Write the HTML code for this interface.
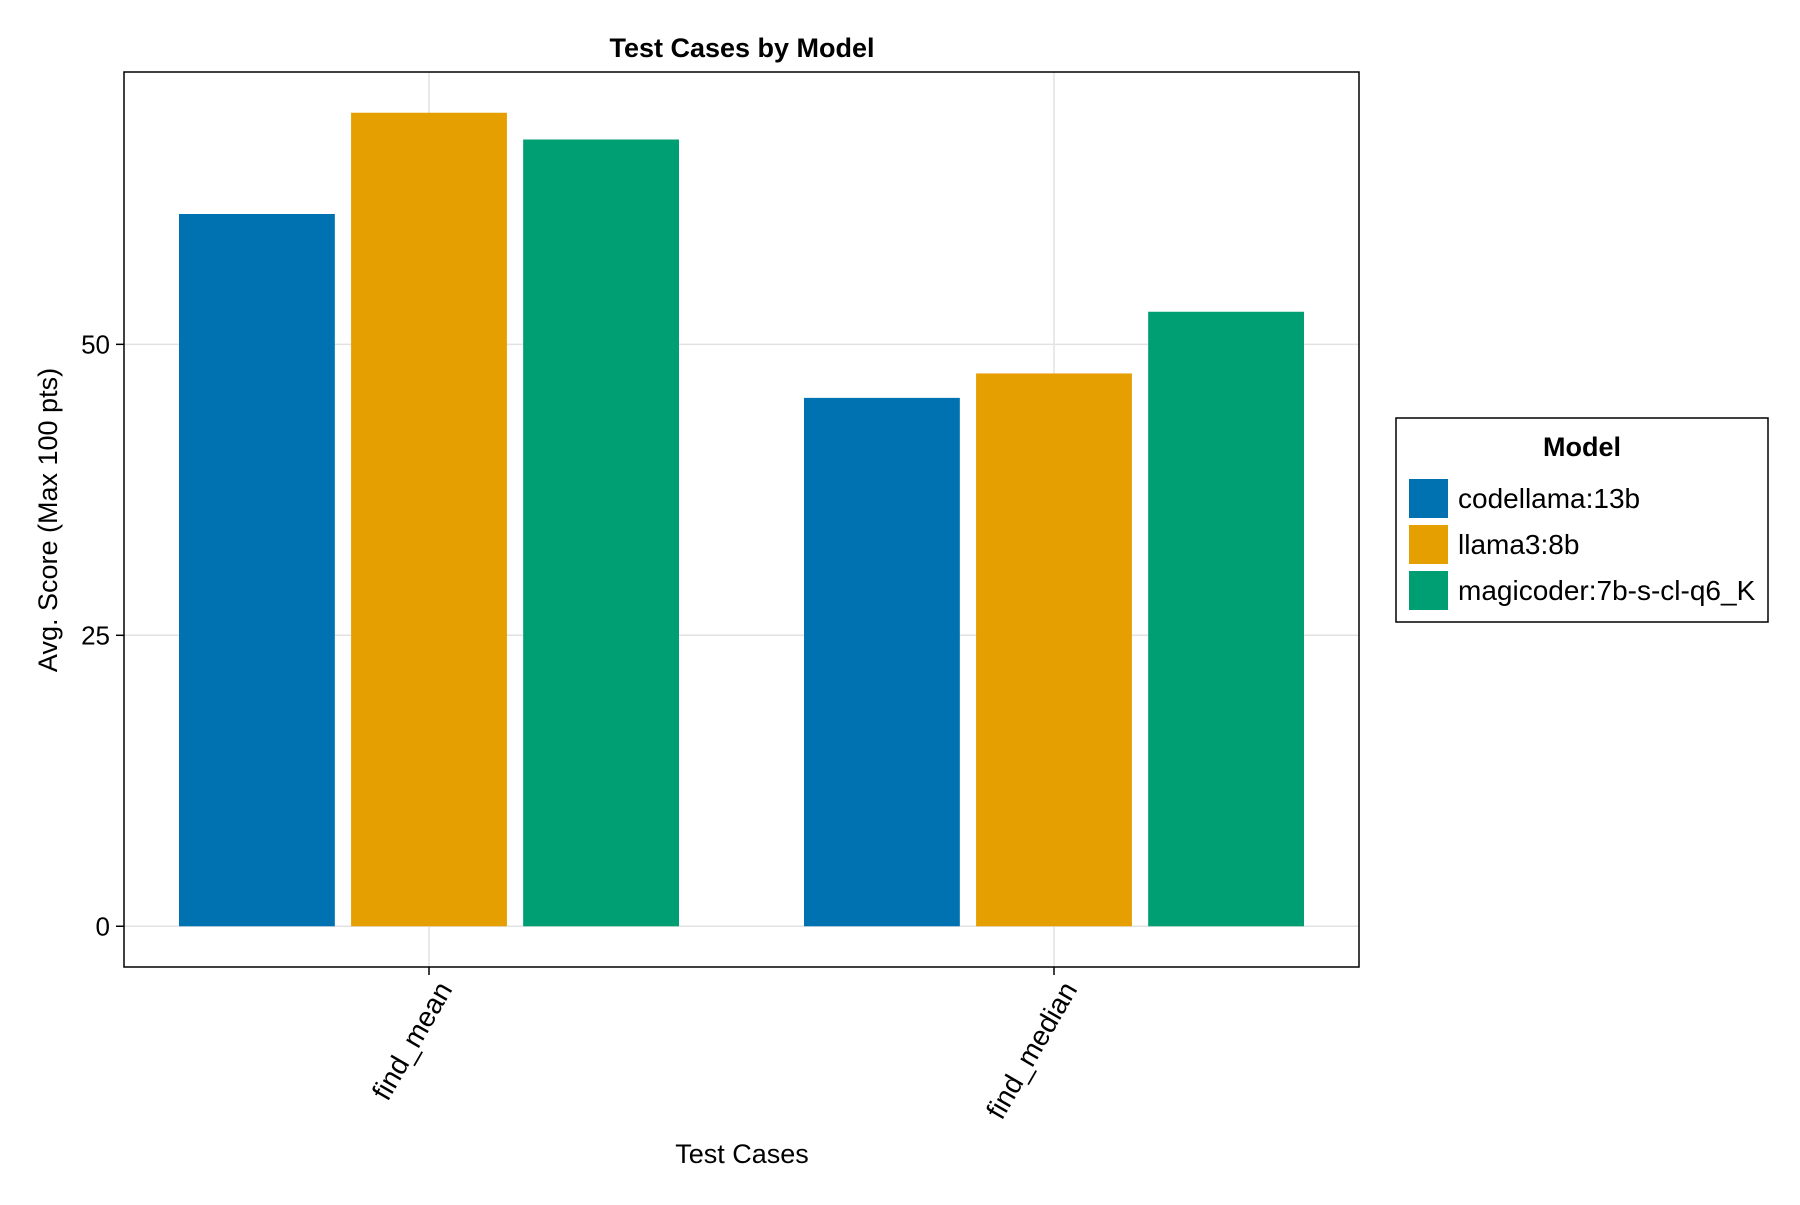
<!DOCTYPE html>
<html><head><meta charset="utf-8"><style>
body{margin:0;background:#fff;}
svg text{font-family:"Liberation Sans",Arial,sans-serif;fill:#000;}
</style></head><body>
<svg id="chart" width="1800" height="1200" viewBox="0 0 1800 1200">
<rect width="1800" height="1200" fill="#fff"/>
<g id="grid"></g><g id="bars"></g><g id="axes"></g>
<text x="742" y="57" font-size="27" font-weight="bold" text-anchor="middle">Test Cases by Model</text>
<text x="742" y="1163" font-size="27" text-anchor="middle">Test Cases</text>
<text transform="translate(57,520) rotate(-90)" font-size="27" text-anchor="middle">Avg. Score (Max 100 pts)</text>
<g id="legend">
<rect x="1396" y="418" width="372" height="204" fill="#fff" stroke="#000" stroke-width="1.5"/>
<text x="1582" y="456" font-size="27" font-weight="bold" text-anchor="middle">Model</text>
</g>
</svg>
<script>
const categories = ["find_mean", "find_median"];
const models = ["codellama:13b", "llama3:8b", "magicoder:7b-s-cl-q6_K"];
const codellamaValues = [61.2, 45.4];
const llama3Values = [69.9, 47.5];
const magicoderValues = [67.6, 52.8];
const yTicks = [0, 25, 50];
const colors = ["#0072b2", "#e69f00", "#009e73"];
const seriesList = [codellamaValues, llama3Values, magicoderValues];

const NS = "http://www.w3.org/2000/svg";
const L = 124, R = 1359, T = 72, B = 967;
const yMin = -3.5, yMax = 73.4, xMin = 0.512, xMax = 2.488;
const xs = v => L + (v - xMin) / (xMax - xMin) * (R - L);
const ys = v => B - (v - yMin) / (yMax - yMin) * (B - T);
function mk(tag, attrs, parent) {
  const e = document.createElementNS(NS, tag);
  for (const k in attrs) e.setAttribute(k, attrs[k]);
  parent.appendChild(e);
  return e;
}
const grid = document.getElementById('grid'), bars = document.getElementById('bars'), axes = document.getElementById('axes');
yTicks.forEach(t => {
  const g = mk('line', {x1: L, x2: R, y1: ys(t), y2: ys(t), stroke: '#e2e2e2', 'stroke-width': 1.5}, grid);
  
  
  const tk = mk('line', {x1: L - 8, x2: L, y1: ys(t), y2: ys(t), stroke: '#000', 'stroke-width': 1.5}, axes);
  
  
  const tx = mk('text', {x: L - 14, y: ys(t) + 9, 'font-size': 26, 'text-anchor': 'end'}, axes);
  tx.textContent = t;
  
  
});
categories.forEach((c, i) => {
  const cx = xs(i + 1);
  const g = mk('line', {x1: cx, x2: cx, y1: T, y2: B, stroke: '#e2e2e2', 'stroke-width': 1.5}, grid);
  
  
  const tk = mk('line', {x1: cx, x2: cx, y1: B, y2: B + 8, stroke: '#000', 'stroke-width': 1.5}, axes);
  
  
  const tx = mk('text', {transform: `translate(${cx + 24},${B + 22}) rotate(-60)`, 'font-size': 28, 'text-anchor': 'end'}, axes);
  tx.textContent = c;
  
  
});
const gapFrac = 0.026, groupW = 0.8 + gapFrac;
const slot = groupW / models.length;
seriesList.forEach((vals, s) => {
  vals.forEach((v, i) => {
    const x0 = xs(i + 1 - groupW / 2 + s * slot + gapFrac / 2);
    const x1 = xs(i + 1 - groupW / 2 + (s + 1) * slot - gapFrac / 2);
    const r = mk('rect', {x: x0, y: ys(v), width: x1 - x0, height: ys(0) - ys(v), fill: colors[s]}, bars);
    
    
  });
});
const frame = mk('rect', {x: L, y: T, width: R - L, height: B - T, fill: 'none', stroke: '#000', 'stroke-width': 1.5}, axes);


const leg = document.getElementById('legend');
models.forEach((m, i) => {
  const y = 479 + i * 46;
  const p = mk('rect', {x: 1409, y: y, width: 39, height: 39, fill: colors[i]}, leg);
  
  
  const t = mk('text', {x: 1458, y: y + 29, 'font-size': 28}, leg);
  t.textContent = m;
  
  
});
</script>
</body></html>
